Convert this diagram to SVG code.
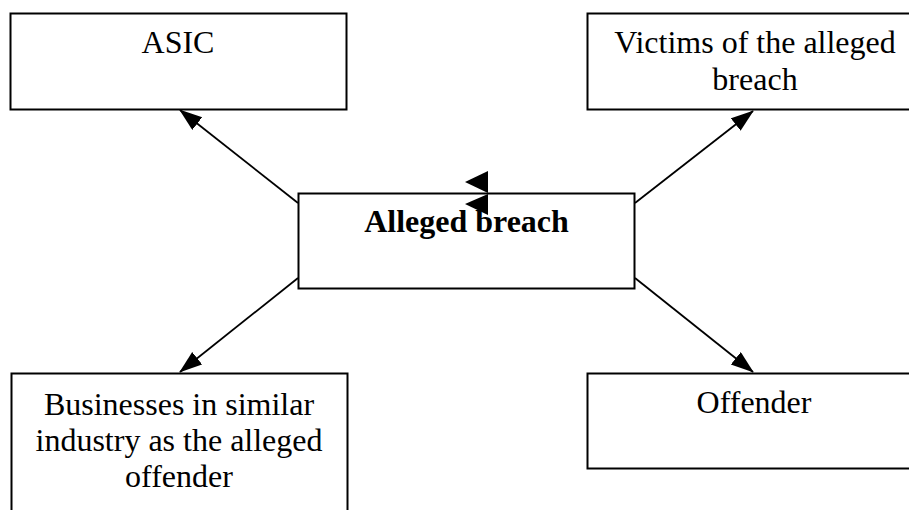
<svg xmlns="http://www.w3.org/2000/svg" width="909" height="510" viewBox="0 0 909 510">
<style>
.box{fill:#fff;stroke:#000;stroke-width:2}
.t{font-family:"Liberation Serif","Times New Roman",serif;font-size:32px;fill:#000;text-anchor:middle}
.b{font-weight:bold}
.c{stroke:#000;stroke-width:1.8;fill:none;marker-end:url(#ah)}
</style>
<defs>
<marker id="ah" markerUnits="userSpaceOnUse" markerWidth="24" markerHeight="18" refX="22" refY="8" orient="auto" viewBox="0 0 24 18">
<path d="M0,0 L23,8 L0,16 z" fill="#000"/>
</marker>
</defs>
<rect width="909" height="510" fill="#fff"/>
<g id="asic"><rect class="box" x="10.5" y="13.5" width="336" height="96"/><text class="t" x="178" y="53">ASIC</text></g>
<g id="victims"><rect class="box" x="587.5" y="13.5" width="335" height="96"/><text class="t" x="755" y="53">Victims of the alleged</text><text class="t" x="755" y="90">breach</text></g>
<g id="breach"><rect class="box" x="298.5" y="193.5" width="336" height="95"/><text class="t b" x="466.5" y="232">Alleged breach</text></g>
<g id="businesses"><rect class="box" x="11.5" y="373.5" width="336" height="150"/><text class="t" x="179" y="415">Businesses in similar</text><text class="t" x="179" y="451">industry as the alleged</text><text class="t" x="179" y="487">offender</text></g>
<g id="offender"><rect class="box" x="587.5" y="373.5" width="335" height="95"/><text class="t" x="754" y="413">Offender</text></g>
<g id="connectors">
<line class="c" x1="298" y1="203" x2="180" y2="110"/>
<line class="c" x1="635" y1="203" x2="753" y2="111"/>
<line class="c" x1="298" y1="278" x2="180" y2="372"/>
<line class="c" x1="635" y1="278" x2="753" y2="372"/>
<polygon points="465,182 488,171 488,193" fill="#000"/>
<polygon points="465,204 488,194 488,215" fill="#000"/>
</g>
</svg>
